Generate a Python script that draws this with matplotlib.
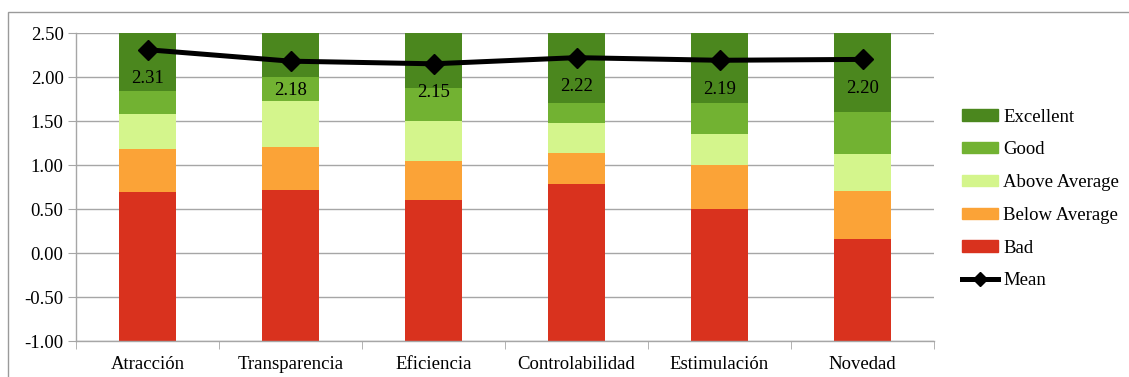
import matplotlib
matplotlib.use("Agg")
import matplotlib.pyplot as plt
import numpy as np
from matplotlib.patches import Rectangle
from matplotlib.lines import Line2D
from matplotlib.patches import Patch

categories = ["Atracción", "Transparencia", "Eficiencia", "Controlabilidad", "Estimulación", "Novedad"]
scale_min = -1.0
bad_upper = [0.69, 0.72, 0.60, 0.78, 0.50, 0.16]
below_upper = [1.18, 1.20, 1.05, 1.14, 1.00, 0.70]
above_upper = [1.58, 1.73, 1.50, 1.48, 1.35, 1.12]
good_upper = [1.84, 2.00, 1.88, 1.70, 1.70, 1.60]
excellent_upper = [2.50, 2.50, 2.50, 2.50, 2.50, 2.50]
means = [2.31, 2.18, 2.15, 2.22, 2.19, 2.20]
yticks = [-1.0, -0.5, 0.0, 0.5, 1.0, 1.5, 2.0, 2.5]

series_names = ["Bad", "Below Average", "Above Average", "Good", "Excellent"]
colors = ["#D9321E", "#FBA337", "#D4F58C", "#72B232", "#4B871E"]

plt.rcParams['font.family'] = ['Liberation Serif', 'DejaVu Serif']

fig = plt.figure(figsize=(11.29, 3.77), dpi=100)
fig.patches.append(Rectangle((8/1129, -0.1), 1.2, 1 - 12/377 + 0.1, transform=fig.transFigure,
                             fill=False, edgecolor="#9a9a9a", linewidth=1.0))
ax = fig.add_axes([76/1129, 36/377, (934-76)/1129, (341-33)/377])

x = np.arange(len(categories))
uppers = [bad_upper, below_upper, above_upper, good_upper, excellent_upper]
bottom = np.full(len(categories), scale_min)
for name, col, up in zip(series_names, colors, uppers):
    up = np.array(up)
    ax.bar(x, up - bottom, bottom=bottom, width=0.4, color=col, label=name, zorder=2)
    bottom = up

ax.plot(x, means, color="black", linewidth=3.6, marker="D", markersize=10, zorder=4, label="Mean")
for xi, m in zip(x, means):
    ax.annotate(f"{m:.2f}", (xi, m), xytext=(0, -29), textcoords="offset pixels",
                ha="center", va="center", fontsize=13.5, zorder=5)

ax.set_xlim(-0.5, len(categories) - 0.5)
ax.set_ylim(-1.0, 2.5)
ax.set_yticks(yticks)
ax.set_yticklabels([f"{v:.2f}" for v in yticks], fontsize=13.5)
ax.yaxis.grid(True, color="#a6a6a6", linewidth=1.0, zorder=0)
ax.set_axisbelow(True)
ax.set_xticks(x)
ax.set_xticklabels(categories, fontsize=13.5)
ax.set_xticks(np.arange(-0.5, len(categories)), minor=True)
ax.tick_params(axis="x", which="major", length=0, pad=11)
ax.tick_params(axis="x", which="minor", length=6, color="#a6a6a6")
ax.tick_params(axis="y", length=6, color="#a6a6a6", pad=3)
for s in ["top", "right"]:
    ax.spines[s].set_visible(False)
for s in ["left", "bottom"]:
    ax.spines[s].set_color("#a6a6a6")
    ax.spines[s].set_linewidth(1.0)

handles = [Patch(color=c) for c in colors[::-1]] + [Line2D([], [], color="black", linewidth=3.6, marker="D", markersize=7)]
labels = series_names[::-1] + ["Mean"]
fig.legend(handles, labels, loc="center left", bbox_to_anchor=(962/1129, 1 - 199/377),
           frameon=False, fontsize=13.5, handlelength=1.9, handleheight=0.55,
           handletextpad=0.3, labelspacing=0.84, borderpad=0, borderaxespad=0)

fig.savefig("out.png", dpi=100)
